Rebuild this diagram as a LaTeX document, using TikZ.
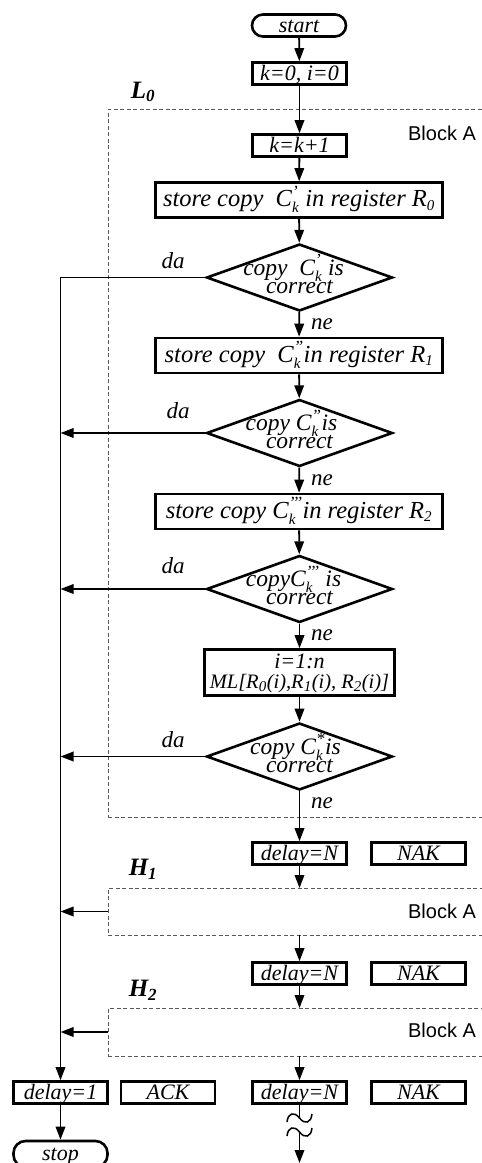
\documentclass[tikz,border=0pt]{standalone}
\usepackage{fontspec}
\setmainfont{Liberation Serif}
\newfontfamily\blocksans{Liberation Sans}
\usetikzlibrary{arrows.meta,shapes.geometric}
\newcommand\supf{\fontsize{17}{17}\selectfont}
\newcommand\subf{\fontsize{15}{15}\selectfont}
\newcommand\Ck[1]{C$^{\hbox{\supf #1}}_{\hbox{\subf k}}$}
\newcommand\Rs[1]{R$_{\hbox{\subf #1}}$}
\newcommand\twol[3]{\raisebox{#1}{\smash{\makebox[0pt]{\vtop{\baselineskip=#2\lineskiplimit=-100pt\halign{\hfil##\hfil\cr#3}}}}}}
\tikzset{
  bodyfont/.style={font=\fontsize{22}{22}\selectfont\itshape},
  proc/.style={draw, line width=2.6pt, inner sep=0pt, bodyfont, text height=17pt, text depth=4pt},
  smallbox/.style={proc, minimum width=94pt, minimum height=22pt},
  widebox/.style={proc, minimum width=287pt, minimum height=35pt, font=\fontsize{24.5}{24.5}\selectfont\itshape, text height=18pt, text depth=5pt},
  term/.style={smallbox, rounded corners=11pt},
  dec/.style={diamond, draw, line width=2.6pt, inner sep=0pt, minimum width=186pt, minimum height=67pt, font=\fontsize{23.5}{23.5}\selectfont\itshape, text height=0pt, text depth=0pt},
  blk/.style={draw=black!65, line width=1pt, dash pattern=on 4pt off 2.5pt, inner sep=0pt, outer sep=0pt},
  flow/.style={line width=1.8pt, -{Triangle[length=13pt,width=9.5pt]}},
  conn/.style={line width=1.8pt},
  wave/.style={line width=1.5pt},
  lab/.style={font=\fontsize{23}{23}\selectfont\itshape, inner sep=0pt},
  hlab/.style={font=\fontsize{25}{25}\selectfont\bfseries\itshape, inner sep=0pt},
  blab/.style={font=\blocksans\fontsize{20}{20}\selectfont, inner sep=0pt}
}
\newcommand\hsub[1]{$_{\hbox{\fontsize{17}{17}\selectfont\bfseries\itshape #1}}$}
\begin{document}
\begin{tikzpicture}[x=1pt,y=-1pt]
\useasboundingbox (0,0) rectangle (482,1163);
% dashed blocks
\node[blk, minimum width=382pt, minimum height=708pt] (B1) at (299,463) {};
\node[blk, minimum width=382pt, minimum height=47pt] (B2) at (299,911.5) {};
\node[blk, minimum width=382pt, minimum height=48pt] (B3) at (299,1032) {};
\node[blab] (BA1) at (442,133) {Block A};
\node[blab] (BA2) at (442,911) {Block A};
\node[blab] (BA3) at (442,1030.5) {Block A};
\node[hlab] (L0) at (143,92) {L\hsub{0}};
\node[hlab] (H1) at (143,869) {H\hsub{1}};
\node[hlab] (H2) at (143,990) {H\hsub{2}};
% main column
\node[term] (start) at (299,25.5) {start};
\node[smallbox] (k0) at (299.5,73.5) {k=0, i=0};
\node[smallbox] (kk) at (299.5,145.5) {k=k+1};
\node[widebox] (R0) at (299,200) {store copy\ \ \Ck{’} in register \Rs{0}};
\node[dec] (D1) at (299.5,277.5) {\twol{2.5pt}{18pt}{copy\ \ \Ck{’} is\hspace{12pt}\cr correct\cr}};
\node[widebox] (R1) at (299,355.5) {store copy\ \ \Ck{”}in register \Rs{1}};
\node[dec] (D2) at (299.5,433) {\twol{2.5pt}{18pt}{copy \Ck{”}is\hspace{16pt}\cr correct\cr}};
\node[widebox] (R2) at (299,511.5) {store copy \Ck{’’’}in register \Rs{2}};
\node[dec] (D3) at (299.5,589) {\twol{2.5pt}{18pt}{copy\Ck{’’’} is\hspace{12pt}\cr correct\cr}};
\node[proc, minimum width=190pt, minimum height=46pt, text height=0pt, text depth=0pt] (ML) at (299.5,672.5) {\twol{4pt}{20pt}{i=1:n\cr {\fontsize{20.5}{20.5}\selectfont ML[\Rs{0}(i),\Rs{1}(i), \Rs{2}(i)]}\cr}};
\node[dec] (D4) at (299.5,756.5) {\twol{2.5pt}{18pt}{copy \Ck{*}is\hspace{8pt}\cr correct\cr}};
\node[smallbox] (dN1) at (299.5,853.5) {delay=N};
\node[smallbox] (NAK1) at (418.5,853.5) {NAK};
\node[smallbox] (dN2) at (299.5,973.5) {delay=N};
\node[smallbox] (NAK2) at (418.5,973.5) {NAK};
\node[smallbox] (d1) at (60.5,1092.5) {delay=1};
\node[smallbox] (ACK) at (168,1092.5) {ACK};
\node[smallbox] (dN3) at (299.5,1092.5) {delay=N};
\node[smallbox] (NAK3) at (418.5,1092.5) {NAK};
\node[term, minimum height=26pt, rounded corners=12pt] (stop) at (60.5,1154) {stop};
% labels
\node[lab] (da1) at (173,261) {da};
\node[lab] (da2) at (178,411) {da};
\node[lab] (da3) at (173,566) {da};
\node[lab] (da4) at (173,740) {da};
\node[lab, anchor=west] (ne1) at (311,324) {ne};
\node[lab, anchor=west] (ne2) at (311,480) {ne};
\node[lab, anchor=west] (ne3) at (311,635) {ne};
\node[lab, anchor=west] (ne4) at (311,803) {ne};
% connectors
\draw[flow] (start) -- (k0);
\draw[flow] (k0) -- (kk);
\draw[flow] (kk) -- (R0);
\draw[flow] (R0) -- (D1);
\draw[flow] (D1) -- (R1);
\draw[flow] (R1) -- (D2);
\draw[flow] (D2) -- (R2);
\draw[flow] (R2) -- (D3);
\draw[flow] (D3) -- (ML);
\draw[flow] (ML) -- (D4);
\draw[flow] (D4) -- (dN1);
\draw[flow] (dN1) -- (dN1 |- B2.north);
\draw[flow] (dN1 |- B2.south) -- (dN2);
\draw[flow] (dN2) -- (dN2 |- B3.north);
\draw[flow] (dN2 |- B3.south) -- (dN3);
\draw[flow] (D1.west) -| (d1.north);
\draw[flow] (D2.west) -- (D2.west -| d1.north);
\draw[flow] (D3.west) -- (D3.west -| d1.north);
\draw[flow] (D4.west) -- (D4.west -| d1.north);
\draw[flow] (B2.west) -- (B2.west -| d1.north);
\draw[flow] (B3.west) -- (B3.west -| d1.north);
\draw[flow] (d1) -- (stop);
% break symbol
\coordinate (w1) at (299.5,1118);
\coordinate (w2) at (299.5,1132);
\coordinate (wend) at (299.5,1163);
\draw[conn] (dN3) -- (w1);
\draw[flow] (w2) -- (wend);
\draw[wave] (287,1122) .. controls (288,1113) and (294,1111) .. (299.5,1118) .. controls (305,1125) and (311,1123) .. (312,1114);
\draw[wave] (287,1136) .. controls (288,1127) and (294,1125) .. (299.5,1132) .. controls (305,1139) and (311,1137) .. (312,1128);
\end{tikzpicture}
\end{document}
